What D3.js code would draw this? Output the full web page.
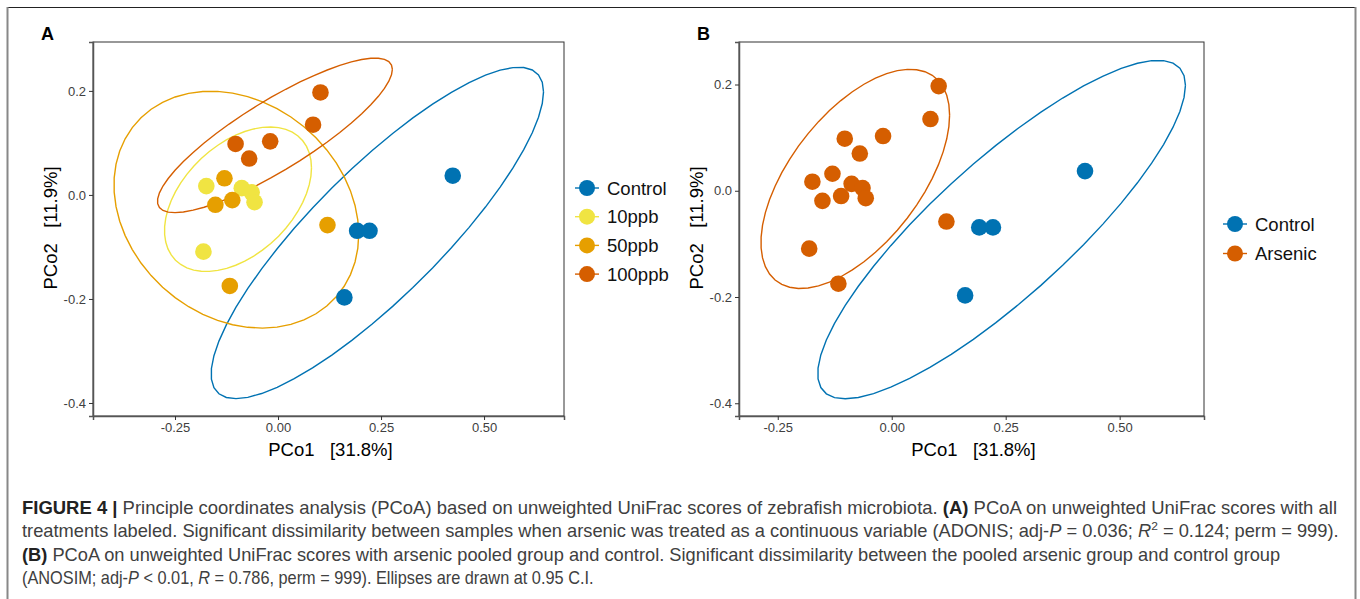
<!DOCTYPE html>
<html>
<head>
<meta charset="utf-8">
<script src="https://cdn.jsdelivr.net/npm/d3@7"></script>
<style>
  body { margin: 0; background: #fff; }
  svg { display: block; font-family: "Liberation Sans", Arial, sans-serif; }
</style>
</head>
<body>
<svg id="fig" width="1360" height="599"></svg>
<script>
// PCoA scores (PCo1, PCo2)
var controlX = [0.424, 0.192, 0.222, 0.161];
var controlY = [0.037, -0.069, -0.069, -0.197];
var ppb10X = [-0.174, -0.088, -0.064, -0.057, -0.181];
var ppb10Y = [0.017, 0.013, 0.005, -0.014, -0.109];
var ppb50X = [-0.130, -0.152, -0.111, 0.120, -0.117];
var ppb50Y = [0.032, -0.019, -0.010, -0.058, -0.175];
var ppb100X = [0.103, 0.085, -0.103, -0.019, -0.070];
var ppb100Y = [0.197, 0.135, 0.098, 0.103, 0.070];

var groupsA = ["Control", "10ppb", "50ppb", "100ppb"];
var colorsA = ["#0072B2", "#F0E442", "#E69F00", "#D55E00"];
var groupsB = ["Control", "Arsenic"];
var colorsB = ["#0072B2", "#D55E00"];

var xTicks = [-0.25, 0, 0.25, 0.5];
var yTicks = [0.2, 0, -0.2, -0.4];
var xDomainA = [-0.449, 0.694], yDomainA = [-0.425, 0.294];
var xDomainB = [-0.335, 0.685], yDomainB = [-0.424, 0.280];

var svg = d3.select("#fig");

function zip(xs, ys) { return xs.map(function(x, i) { return [x, ys[i]]; }); }

// robust t covariance, like MASS::cov.trob
function covTrob(pts) {
  var nu = 5, p = 2, n = pts.length;
  var w = pts.map(function() { return 1; });
  var loc = [d3.mean(pts, d => d[0]), d3.mean(pts, d => d[1])];
  var X;
  for (var it = 0; it < 25; it++) {
    var w0 = w.slice();
    X = pts.map(d => [d[0] - loc[0], d[1] - loc[1]]);
    var sw = d3.sum(w), a = 0, b = 0, c = 0;
    X.forEach(function(v, i) {
      a += w[i] / sw * v[0] * v[0];
      b += w[i] / sw * v[0] * v[1];
      c += w[i] / sw * v[1] * v[1];
    });
    var det = a * c - b * b;
    w = X.map(function(v) {
      var q = (c * v[0] * v[0] - 2 * b * v[0] * v[1] + a * v[1] * v[1]) / det;
      return (nu + p) / (nu + q);
    });
    var ws = d3.sum(w);
    loc = [d3.sum(pts, (d, i) => w[i] * d[0]) / ws, d3.sum(pts, (d, i) => w[i] * d[1]) / ws];
    if (w.every((v, i) => Math.abs(v - w0[i]) < 0.01)) break;
  }
  var ca = 0, cb = 0, cc = 0;
  X.forEach(function(v, i) {
    ca += w[i] * v[0] * v[0]; cb += w[i] * v[0] * v[1]; cc += w[i] * v[1] * v[1];
  });
  return { center: loc, cov: [ca / n, cb / n, cc / n] };
}

// 95% ellipse, same recipe as ggplot2 stat_ellipse(type = "t")
function ellipse(pts) {
  var est = covTrob(pts), dfd = pts.length - 1;
  var qf = (dfd / 2) * (Math.pow(0.05, -2 / dfd) - 1);
  var r = Math.sqrt(2 * qf);
  var r11 = Math.sqrt(est.cov[0]), r12 = est.cov[1] / r11;
  var r22 = Math.sqrt(est.cov[2] - r12 * r12);
  return d3.range(52).map(function(k) {
    var t = 2 * Math.PI * k / 51;
    return [est.center[0] + r * Math.cos(t) * r11,
            est.center[1] + r * (Math.cos(t) * r12 + Math.sin(t) * r22)];
  });
}

// ggplot style labels use a plain hyphen for negatives
function fmt(spec) {
  var f = d3.format(spec);
  return function(d) { return f(d).replace("\u2212", "-"); };
}

function panel(opt) {
  var x = d3.scaleLinear().domain(opt.xDomain).range([opt.left, opt.right]);
  var y = d3.scaleLinear().domain(opt.yDomain).range([416, 42]);
  var g = svg.append("g");

  g.append("text").attr("x", opt.tag[0]).attr("y", 40)
    .attr("font-size", 18).attr("font-weight", "bold").text(opt.label);

  var line = d3.line().x(d => x(d[0])).y(d => y(d[1]));
  g.selectAll(".ell").data(opt.groups).enter().append("path")
    .attr("d", d => line(ellipse(d.pts)))
    .attr("fill", "none").attr("stroke", d => d.color).attr("stroke-width", 1.4);

  opt.groups.forEach(function(grp) {
    g.selectAll(null).data(grp.pts).enter().append("circle")
      .attr("cx", d => x(d[0])).attr("cy", d => y(d[1])).attr("r", 8.3)
      .attr("fill", grp.color);
  });

  g.append("rect").attr("x", opt.left).attr("y", 42)
    .attr("width", opt.right - opt.left).attr("height", 416 - 42)
    .attr("fill", "none").attr("stroke", "#333").attr("stroke-width", 1);

  var xa = g.append("g").attr("transform", "translate(0,416)")
    .call(d3.axisBottom(x).tickValues(xTicks).tickFormat(fmt(".2f")).tickSizeOuter(0).tickSize(4).tickPadding(3));
  var ya = g.append("g").attr("transform", "translate(" + opt.left + ",0)")
    .call(d3.axisLeft(y).tickValues(yTicks).tickFormat(fmt(".1f")).tickSizeOuter(0).tickSize(4).tickPadding(3));
  [xa, ya].forEach(function(a) {
    a.attr("font-size", 13).attr("font-family", "Liberation Sans, Arial, sans-serif");
    a.select(".domain").attr("stroke", "#555").attr("stroke-width", 1.5);
    a.selectAll(".tick line").attr("stroke", "#333");
    a.selectAll(".tick text").attr("fill", "#404040");
  });

  g.append("text").attr("x", (opt.left + opt.right) / 2 + 2).attr("y", 456)
    .attr("text-anchor", "middle").attr("font-size", 18.5)
    .attr("xml:space", "preserve").text("PCo1   [31.8%]");
  g.append("text")
    .attr("transform", "translate(" + opt.ytitle + "," + 228 + ") rotate(-90)")
    .attr("text-anchor", "middle").attr("font-size", 18.5)
    .attr("xml:space", "preserve").text("PCo2   [11.9%]");

  var lg = g.selectAll(".lg").data(opt.groups).enter().append("g")
    .attr("transform", (d, i) => "translate(" + opt.legend[0] + "," + (opt.legend[1] + i * opt.legend[2]) + ")");
  lg.append("line").attr("x1", -12).attr("x2", 12)
    .attr("stroke", d => d.color).attr("stroke-width", 1.4);
  lg.append("circle").attr("r", 8).attr("fill", d => d.color);
  lg.append("text").attr("x", 20).attr("y", 6.5).attr("font-size", 18.5)
    .attr("fill", "#111").text(d => d.name);
}

var ptsA = [zip(controlX, controlY), zip(ppb10X, ppb10Y), zip(ppb50X, ppb50Y), zip(ppb100X, ppb100Y)];
panel({
  label: "A", tag: [41], left: 93, right: 564, xDomain: xDomainA, yDomain: yDomainA,
  ytitle: 57, legend: [587, 188, 28.7],
  groups: groupsA.map((n, i) => ({ name: n, color: colorsA[i], pts: ptsA[i] }))
});

var arsenic = ptsA[1].concat(ptsA[2], ptsA[3]);
var ptsB = [ptsA[0], arsenic];
panel({
  label: "B", tag: [697], left: 739, right: 1204, xDomain: xDomainB, yDomain: yDomainB,
  ytitle: 703, legend: [1235, 224, 29.5],
  groups: groupsB.map((n, i) => ({ name: n, color: colorsB[i], pts: ptsB[i] }))
});

// figure frame
svg.append("line").attr("x1", 7).attr("x2", 1356).attr("y1", 7.5).attr("y2", 7.5)
  .attr("stroke", "#222").attr("stroke-width", 1);
svg.append("line").attr("x1", 7.5).attr("x2", 7.5).attr("y1", 7).attr("y2", 599)
  .attr("stroke", "#888").attr("stroke-width", 2);
svg.append("line").attr("x1", 1355.5).attr("x2", 1355.5).attr("y1", 7).attr("y2", 599)
  .attr("stroke", "#888").attr("stroke-width", 2);

// caption
var captionLines = [
  [["b", "FIGURE 4 | "], ["", "Principle coordinates analysis (PCoA) based on unweighted UniFrac scores of zebrafish microbiota. "], ["b", "(A)"], ["", " PCoA on unweighted UniFrac scores with all"]],
  [["", "treatments labeled. Significant dissimilarity between samples when arsenic was treated as a continuous variable (ADONIS; adj-"], ["i", "P"], ["", " = 0.036; "], ["i", "R"], ["sup", "2"], ["", " = 0.124; perm = 999)."]],
  [["b", "(B)"], ["", " PCoA on unweighted UniFrac scores with arsenic pooled group and control. Significant dissimilarity between the pooled arsenic group and control group"]],
  [["", "(ANOSIM; adj-"], ["i", "P"], ["", " < 0.01, "], ["i", "R"], ["", " = 0.786, perm = 999). Ellipses are drawn at 0.95 C.I."]]
];
var captionWidths = [1316, 1318, 1259, 572];
var captionY = [514, 537, 561, 584];

// each caption line is squeezed horizontally to the width it has in the figure
captionLines.forEach(function(parts, li) {
  var t = svg.append("text").attr("x", 0).attr("y", 0)
    .attr("font-size", 17.5).attr("fill", "#404040");
  parts.forEach(function(p) {
    var s = t.append("tspan").text(p[1]);
    if (p[0] === "b") s.attr("font-weight", "bold").attr("fill", "#222");
    if (p[0] === "i") s.attr("font-style", "italic");
    if (p[0] === "sup") s.attr("font-size", 11.5).attr("dy", -7);
    if (p[0] === "" && li === 1 && p[1].indexOf(" = 0.124") === 0) s.attr("dy", 7);
  });
  var natural = t.node().getComputedTextLength();
  t.attr("transform", "translate(22," + captionY[li] + ") scale(" + (captionWidths[li] / natural) + ",1)");
});
</script>
</body>
</html>
